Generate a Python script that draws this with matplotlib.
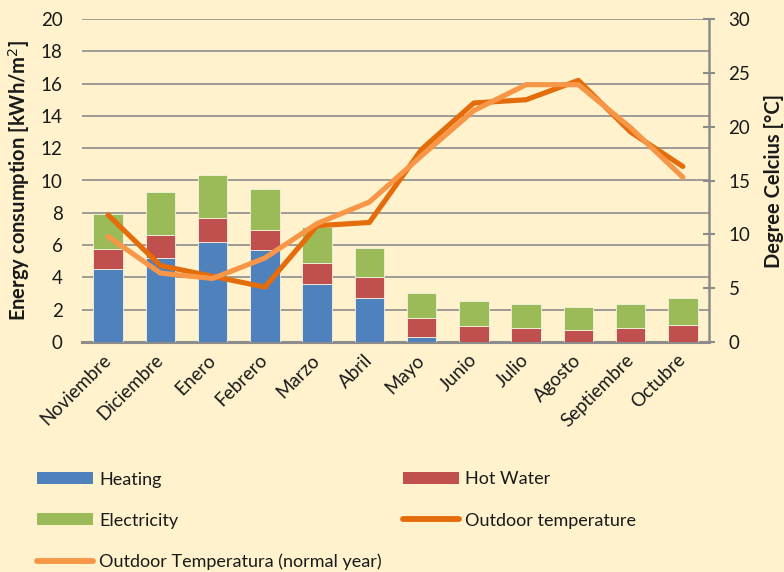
import matplotlib
matplotlib.use("Agg")
import matplotlib.pyplot as plt
from matplotlib.patches import Patch
from matplotlib.lines import Line2D
import numpy as np

months = ["Noviembre", "Diciembre", "Enero", "Febrero", "Marzo", "Abril",
          "Mayo", "Junio", "Julio", "Agosto", "Septiembre", "Octubre"]
heating = [4.5, 5.2, 6.2, 5.7, 3.6, 2.75, 0.3, 0, 0, 0, 0, 0]
hot_water = [1.25, 1.4, 1.45, 1.25, 1.3, 1.25, 1.2, 1.0, 0.88, 0.76, 0.88, 1.07]
electricity = [2.15, 2.7, 2.7, 2.55, 2.2, 1.8, 1.55, 1.53, 1.45, 1.38, 1.5, 1.67]
outdoor_temp = [11.8, 7.1, 6.1, 5.1, 10.8, 11.1, 17.9, 22.2, 22.5, 24.3, 19.5, 16.3]
normal_temp = [9.8, 6.4, 5.9, 7.8, 11.0, 13.0, 17.3, 21.5, 23.9, 23.9, 19.9, 15.3]

bg = "#FFF2CC"
c_heat = "#4F81BD"
c_hw = "#C0504D"
c_el = "#9BBB59"
c_out = "#E46C0A"
c_norm = "#F79646"
grid_c = "#8C8C8C"
txt_c = "#1a1a1a"

plt.rcParams['font.family'] = ['Lato', 'DejaVu Sans']

fig = plt.figure(figsize=(7.84, 5.72), dpi=100, facecolor=bg)
ax = fig.add_axes([82/784, 1-342/572, (709-82)/784, (342-19)/572])
ax.set_facecolor(bg)

x = np.arange(len(months))
w = 0.56
h = np.array(heating)
hw = np.array(hot_water)
el = np.array(electricity)
ax.bar(x, h, w, color=c_heat, edgecolor="#F3F3E0", linewidth=0.6, zorder=3)
ax.bar(x, hw, w, bottom=h, color=c_hw, edgecolor="#F3F3E0", linewidth=0.6, zorder=3)
ax.bar(x, el, w, bottom=h + hw, color=c_el, edgecolor="#F3F3E0", linewidth=0.6, zorder=3)

ax.set_ylim(0, 20)
ax.set_xlim(-0.5, len(months) - 0.5)
ax.set_yticks(np.arange(0, 21, 2))
ax.yaxis.grid(True, color=grid_c, linewidth=1.2, zorder=0)
ax.set_axisbelow(True)
for s in ["top", "left", "right"]:
    ax.spines[s].set_visible(False)
ax.spines["bottom"].set_color(grid_c)
ax.spines["bottom"].set_linewidth(2.2)
ax.tick_params(axis="y", length=0, pad=14, labelsize=13.5, colors=txt_c)
ax.tick_params(axis="x", length=0, pad=11, labelsize=13.5, colors=txt_c)
ax.set_xticks(x)
ax.set_xticklabels(months, rotation=45, ha="right", va="center", rotation_mode="anchor")
ax.set_ylabel("Energy consumption [kWh/m$^2$]", fontsize=14.5, fontweight="bold",
              labelpad=6, color=txt_c)

ax2 = ax.twinx()
ax2.set_ylim(0, 30)
ax2.set_yticks(np.arange(0, 31, 5))
for s in ["top", "left", "bottom"]:
    ax2.spines[s].set_visible(False)
ax2.spines["right"].set_color(grid_c)
ax2.spines["right"].set_linewidth(1.8)
ax2.tick_params(axis="y", direction="inout", length=8, width=1.5, color=grid_c,
                pad=10, labelsize=13.5, labelcolor=txt_c)
ax2.set_ylabel("Degree Celcius [°C]", fontsize=14.5, fontweight="bold", labelpad=10,
               color=txt_c)
ax2.plot(x, outdoor_temp, color=c_out, linewidth=3.7, solid_capstyle="round",
         solid_joinstyle="round", zorder=4)
ax2.plot(x, normal_temp, color=c_norm, linewidth=3.7, solid_capstyle="round",
         solid_joinstyle="round", zorder=5)

h_heat = Patch(facecolor=c_heat, label="Heating")
h_hw = Patch(facecolor=c_hw, label="Hot Water")
h_el = Patch(facecolor=c_el, label="Electricity")
h_out = Line2D([], [], color=c_out, linewidth=4.2, solid_capstyle="round", label="Outdoor temperature")
h_norm = Line2D([], [], color=c_norm, linewidth=4.2, solid_capstyle="round",
                label="Outdoor Temperatura (normal year)")

common = dict(frameon=False, fontsize=13, handlelength=3.1, handleheight=0.67,
              handletextpad=0.33, labelspacing=1.39, borderpad=0, borderaxespad=0)
leg1 = fig.legend(handles=[h_heat, h_el, h_norm], loc="upper left",
                  bbox_to_anchor=(37/784, 1-471.5/572), **common)
leg2 = fig.legend(handles=[h_hw, h_out], loc="upper left",
                  bbox_to_anchor=(403/784, 1-471.5/572), **common)
for leg in (leg1, leg2):
    for t in leg.get_texts():
        t.set_color(txt_c)

fig.savefig("out.png", dpi=100, facecolor=bg)
